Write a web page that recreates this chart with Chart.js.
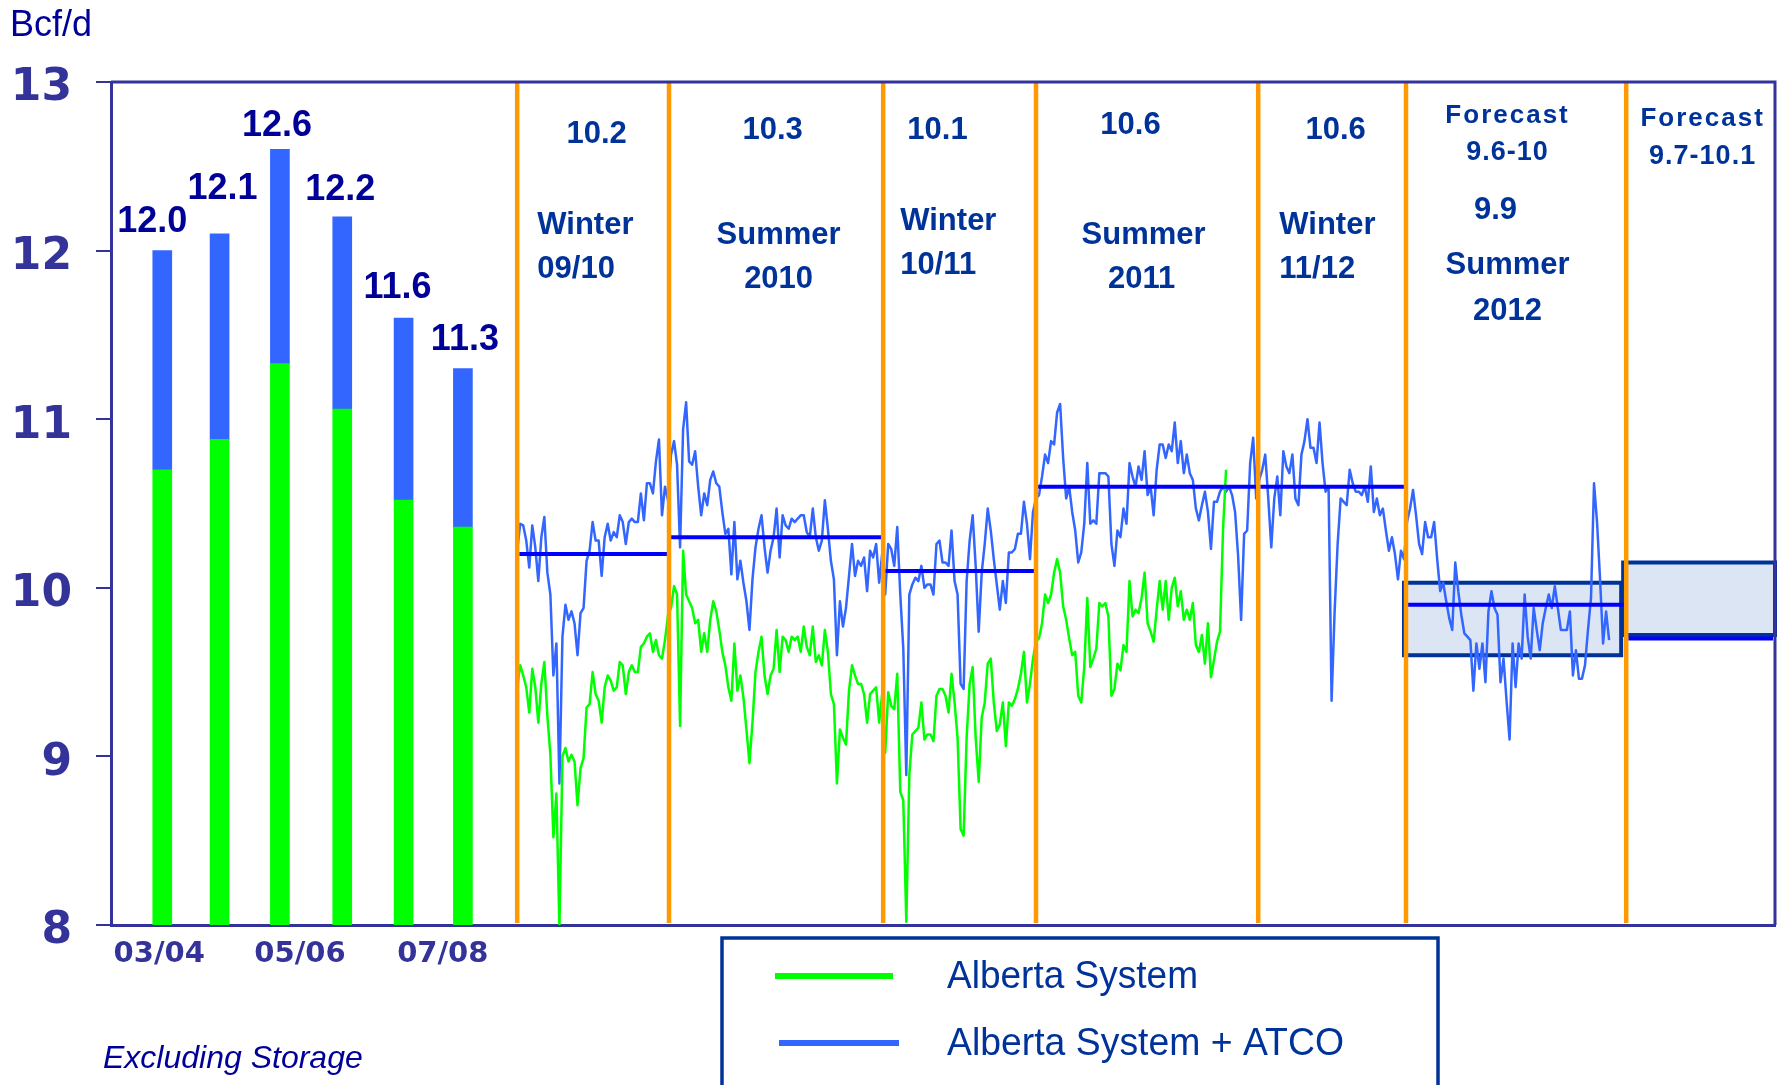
<!DOCTYPE html>
<html lang="en">
<head>
<meta charset="UTF-8">
<title>Alberta System - Bcf/d</title>
<script src="https://cdn.jsdelivr.net/npm/chart.js"></script>
<style>
  html, body { margin: 0; padding: 0; background: #fff; overflow: hidden; }
  #wrap { width: 1790px; height: 1085px; }
</style>
</head>
<body>
<div id="wrap"><canvas id="flowChart" width="1790" height="1085"></canvas></div>
<script>
// yearly bars (gas years), x = days before Nov 1 2009 on the shared axis
const barYears = ['03/04', '04/05', '05/06', '06/07', '07/08', '08/09'];
const barDay = [-353, -296, -236, -174, -113, -54];
const albertaBar = [10.70, 10.88, 11.33, 11.06, 10.52, 10.36];
const totalBar = [12.0, 12.1, 12.6, 12.2, 11.6, 11.3];

const xTickDays = [-356, -216, -74];
const xTickLabels = ['03/04', '05/06', '07/08'];

// seasons: start day of each, last entry = right edge
const seasonStart = [0, 151, 364, 516, 737, 884, 1103, 1251];
const seasonAvg = [10.2, 10.3, 10.1, 10.6, 10.6, 9.9, 9.7];
const bandLow = [9.6, 9.72];
const bandHigh = [10.03, 10.15];

// daily flows, one reading every 3 days from day 0
const dayStep = 3;
const atcoW0910 = [10.22, 10.38, 10.37, 10.28, 10.12, 10.37, 10.24, 10.04, 10.30, 10.42, 10.09, 9.96, 9.48, 9.67, 8.84, 9.71, 9.90, 9.81, 9.86, 9.79, 9.60, 9.85, 9.88, 10.16, 10.22, 10.39, 10.28, 10.28, 10.07, 10.30, 10.38, 10.28, 10.33, 10.30, 10.43, 10.39, 10.26, 10.39, 10.41, 10.39, 10.39, 10.56, 10.40, 10.62, 10.62, 10.56, 10.75, 10.88, 10.43, 10.60, 10.52];
const atcoS2010 = [10.79, 10.87, 10.73, 10.24, 10.94, 11.10, 10.75, 10.73, 10.81, 10.60, 10.43, 10.56, 10.49, 10.64, 10.69, 10.62, 10.60, 10.45, 10.32, 10.35, 10.08, 10.39, 10.05, 10.16, 10.03, 9.92, 9.75, 10.05, 10.24, 10.35, 10.43, 10.24, 10.09, 10.22, 10.30, 10.47, 10.18, 10.43, 10.37, 10.35, 10.41, 10.39, 10.41, 10.43, 10.43, 10.33, 10.30, 10.47, 10.30, 10.22, 10.28, 10.52, 10.35, 10.16, 10.05, 9.60, 9.92, 9.77, 9.88, 10.07, 10.26, 10.07, 10.16, 10.13, 10.18, 9.98, 10.22, 10.18, 10.26, 10.03, 10.20];
const atcoW1011 = [9.96, 10.26, 10.23, 10.13, 10.36, 9.96, 9.64, 8.89, 9.96, 10.02, 10.06, 10.04, 10.13, 10.00, 10.02, 10.02, 9.96, 10.26, 10.28, 10.15, 10.15, 10.13, 10.34, 10.04, 9.96, 9.43, 9.40, 10.04, 10.28, 10.43, 10.13, 9.74, 10.09, 10.26, 10.47, 10.34, 10.17, 10.02, 9.87, 10.04, 9.91, 10.21, 10.21, 10.23, 10.32, 10.32, 10.51, 10.38, 10.17, 10.45];
const atcoS2011 = [10.53, 10.55, 10.66, 10.79, 10.74, 10.87, 10.85, 11.04, 11.09, 10.77, 10.53, 10.60, 10.45, 10.34, 10.15, 10.21, 10.38, 10.74, 10.38, 10.40, 10.38, 10.68, 10.68, 10.68, 10.66, 10.26, 10.13, 10.34, 10.30, 10.47, 10.38, 10.74, 10.66, 10.60, 10.72, 10.64, 10.81, 10.55, 10.60, 10.43, 10.70, 10.85, 10.85, 10.77, 10.85, 10.81, 10.98, 10.74, 10.87, 10.68, 10.79, 10.68, 10.64, 10.47, 10.40, 10.49, 10.57, 10.45, 10.23, 10.51, 10.51, 10.57, 10.60, 10.57, 10.60, 10.55, 10.45, 10.19, 9.81, 10.32, 10.34, 10.74, 10.89, 10.53];
const atcoW1112 = [10.64, 10.70, 10.79, 10.53, 10.24, 10.53, 10.66, 10.43, 10.81, 10.72, 10.68, 10.79, 10.53, 10.49, 10.79, 10.87, 11.00, 10.83, 10.83, 10.74, 10.98, 10.74, 10.57, 10.60, 9.33, 9.86, 10.26, 10.53, 10.51, 10.49, 10.70, 10.62, 10.57, 10.57, 10.55, 10.60, 10.51, 10.72, 10.45, 10.53, 10.43, 10.47, 10.34, 10.22, 10.30, 10.20, 10.05, 10.22, 10.17];
const atcoS2012 = [10.39, 10.47, 10.58, 10.43, 10.26, 10.20, 10.39, 10.30, 10.30, 10.39, 10.17, 9.98, 10.03, 9.92, 9.82, 9.75, 10.15, 9.98, 9.84, 9.73, 9.71, 9.69, 9.39, 9.67, 9.52, 9.67, 9.44, 9.86, 9.98, 9.88, 9.84, 9.44, 9.58, 9.33, 9.10, 9.67, 9.41, 9.67, 9.58, 9.96, 9.71, 9.58, 9.88, 9.75, 9.63, 9.79, 9.88, 9.96, 9.88, 10.01, 9.88, 9.75, 9.75, 9.75, 9.86, 9.48, 9.63, 9.46, 9.46, 9.54, 9.75, 9.94, 10.62, 10.39, 10.05, 9.67, 9.86, 9.69];

const albertaW0910 = [9.41, 9.54, 9.48, 9.41, 9.26, 9.52, 9.41, 9.20, 9.43, 9.56, 9.24, 9.01, 8.52, 8.78, 7.98, 9.00, 9.05, 8.97, 9.01, 8.97, 8.71, 8.93, 8.99, 9.29, 9.31, 9.50, 9.37, 9.33, 9.20, 9.41, 9.48, 9.45, 9.39, 9.41, 9.56, 9.54, 9.37, 9.50, 9.54, 9.50, 9.50, 9.65, 9.67, 9.71, 9.73, 9.62, 9.69, 9.60, 9.58, 9.69, 9.84];
const albertaS2010 = [9.88, 10.01, 9.96, 9.18, 10.22, 9.96, 9.92, 9.88, 9.79, 9.81, 9.62, 9.73, 9.62, 9.81, 9.92, 9.86, 9.75, 9.62, 9.54, 9.41, 9.33, 9.67, 9.39, 9.48, 9.35, 9.16, 8.96, 9.20, 9.50, 9.62, 9.71, 9.48, 9.37, 9.48, 9.52, 9.75, 9.50, 9.71, 9.69, 9.62, 9.71, 9.69, 9.71, 9.62, 9.77, 9.65, 9.60, 9.77, 9.56, 9.60, 9.54, 9.75, 9.62, 9.37, 9.31, 8.84, 9.16, 9.11, 9.07, 9.39, 9.54, 9.48, 9.43, 9.43, 9.37, 9.20, 9.37, 9.39, 9.41, 9.20, 9.37];
const albertaW1011 = [9.02, 9.38, 9.30, 9.28, 9.49, 8.79, 8.74, 8.02, 8.89, 9.13, 9.15, 9.17, 9.32, 9.10, 9.13, 9.13, 9.09, 9.36, 9.40, 9.40, 9.36, 9.26, 9.49, 9.32, 9.11, 8.57, 8.53, 9.11, 9.43, 9.53, 9.11, 8.85, 9.23, 9.32, 9.55, 9.58, 9.32, 9.15, 9.19, 9.32, 9.06, 9.32, 9.30, 9.34, 9.40, 9.49, 9.62, 9.32, 9.43, 9.58];
const albertaS2011 = [9.68, 9.70, 9.79, 9.96, 9.91, 9.96, 10.09, 10.17, 10.09, 9.89, 9.81, 9.70, 9.60, 9.62, 9.36, 9.32, 9.53, 9.94, 9.53, 9.58, 9.64, 9.91, 9.89, 9.91, 9.83, 9.36, 9.40, 9.55, 9.51, 9.66, 9.62, 10.04, 9.83, 9.87, 9.85, 9.94, 10.09, 9.79, 9.74, 9.68, 9.87, 10.04, 9.87, 10.04, 9.81, 10.00, 10.06, 9.89, 9.98, 9.81, 9.87, 9.81, 9.91, 9.66, 9.62, 9.72, 9.55, 9.79, 9.47, 9.57, 9.68, 9.74, 10.34, 10.70];

const atcoDaily = [].concat(atcoW0910, atcoS2010, atcoW1011, atcoS2011, atcoW1112, atcoS2012);
const albertaDaily = [].concat(albertaW0910, albertaS2010, albertaW1011, albertaS2011);

const font = '"Liberation Sans", Arial, sans-serif';
const navy = '#000099';
const noteBlue = '#003399';

// text boxes in the plot, placed in axis units
const notes = [
  ['10.2', 79, 12.69, 'n'], ['Winter', 20, 12.15, 'l'], ['09/10', 20, 11.89, 'l'],
  ['10.3', 254, 12.71, 'n'], ['Summer', 260, 12.09, 'n'], ['2010', 260, 11.83, 'n'],
  ['10.1', 418, 12.71, 'n'], ['Winter', 381, 12.17, 'l'], ['10/11', 381, 11.91, 'l'],
  ['10.6', 610, 12.74, 'n'], ['Summer', 623, 12.09, 'n'], ['2011', 621, 11.83, 'n'],
  ['10.6', 814, 12.71, 'n'], ['Winter', 758, 12.15, 'l'], ['11/12', 758, 11.89, 'l'],
  ['Forecast', 985, 12.80, 'f'], ['9.6-10', 985, 12.58, 'r'],
  ['9.9', 973, 12.24, 'n'], ['Summer', 985, 11.91, 'n'], ['2012', 985, 11.64, 'n'],
  ['Forecast', 1179, 12.78, 'f'], ['9.7-10.1', 1179, 12.56, 'r']
];
const labelLift = [19, 35, 13, 17, 20, 19];
const labelShift = [-10, 3, -3, -2, -6, 2];

const asPoints = arr => arr.map((v, i) => ({ x: i * dayStep, y: v }));
const avgPoints = [];
seasonAvg.forEach((v, i) => {
    avgPoints.push({ x: seasonStart[i] + 2, y: v }, { x: seasonStart[i + 1] - 2, y: v }, { x: seasonStart[i + 1], y: null });
});

const decor = {
    id: 'decor',
    beforeDatasetsDraw(chart) {
        const { ctx, scales: { x, y } } = chart;
        ctx.save();
        bandLow.forEach((lo, i) => {
            const s = 5 + i;
            const left = x.getPixelForValue(i === 0 ? seasonStart[s] - 2 : seasonStart[s] - 3);
            const right = x.getPixelForValue(i === 0 ? seasonStart[s + 1] - 5 : seasonStart[s + 1]);
            const top = y.getPixelForValue(bandHigh[i]);
            const bottom = y.getPixelForValue(lo);
            ctx.fillStyle = '#dbe5f4';
            ctx.fillRect(left, top, right - left, bottom - top);
            ctx.lineWidth = 4;
            ctx.strokeStyle = noteBlue;
            ctx.strokeRect(left, top, right - left, bottom - top);
        });
        ctx.restore();
    },
    afterDatasetsDraw(chart) {
        const { ctx, chartArea: a, scales: { x, y } } = chart;
        ctx.save();

        // season dividers
        ctx.strokeStyle = '#FF9900';
        ctx.lineWidth = 4.5;
        for (let s = 0; s < seasonStart.length - 1; s++) {
            const px = x.getPixelForValue(seasonStart[s]);
            ctx.beginPath();
            ctx.moveTo(px, a.top);
            ctx.lineTo(px, a.bottom - 2);
            ctx.stroke();
        }

        // top and right frame
        ctx.strokeStyle = '#333399';
        ctx.lineWidth = 3;
        ctx.beginPath();
        ctx.moveTo(a.left, a.top);
        ctx.lineTo(a.right, a.top);
        ctx.lineTo(a.right, a.bottom);
        ctx.stroke();

        // bar totals
        const tops = chart.getDatasetMeta(4).data;
        ctx.fillStyle = navy;
        ctx.font = 'bold 36px ' + font;
        ctx.textAlign = 'center';
        ctx.textBaseline = 'alphabetic';
        tops.forEach((bar, i) => {
            ctx.fillText(totalBar[i].toFixed(1), bar.x + labelShift[i], bar.y - labelLift[i]);
        });

        // season notes
        ctx.fillStyle = noteBlue;
        ctx.textBaseline = 'middle';
        notes.forEach(([text, dx, dv, kind]) => {
            ctx.letterSpacing = '0px';
            if (kind === 'f') {
                ctx.font = 'bold 26px ' + font;
                ctx.letterSpacing = '2px';
            } else if (kind === 'r') {
                ctx.font = 'bold 27px ' + font;
                ctx.letterSpacing = '1px';
            } else {
                ctx.font = 'bold 31px ' + font;
            }
            ctx.textAlign = kind === 'l' ? 'left' : 'center';
            ctx.fillText(text, x.getPixelForValue(dx), y.getPixelForValue(dv));
        });
        ctx.letterSpacing = '0px';

        // unit and footnote
        ctx.fillStyle = navy;
        ctx.textAlign = 'left';
        ctx.textBaseline = 'alphabetic';
        ctx.font = '36px ' + font;
        ctx.fillText('Bcf/d', 10, 36);
        ctx.font = 'italic 32px ' + font;
        ctx.fillText('Excluding Storage', 103, 1068);

        // legend box
        const sets = chart.data.datasets;
        ctx.strokeStyle = noteBlue;
        ctx.lineWidth = 3.5;
        ctx.strokeRect(722, 938, 716, 200);
        [[sets[1], 976, 988, 251, 775, 893], [sets[2], 1043, 1055, 397, 779, 899]].forEach(([ds, ly, ty, tw, x0, x1]) => {
            ctx.strokeStyle = ds.borderColor;
            ctx.lineWidth = 6;
            ctx.beginPath();
            ctx.moveTo(x0, ly);
            ctx.lineTo(x1, ly);
            ctx.stroke();
            ctx.fillStyle = noteBlue;
            ctx.font = '39px ' + font;
            ctx.fillText(ds.label, 947, ty, tw);
        });
        ctx.restore();
    }
};

const ctx = document.getElementById('flowChart').getContext('2d');
const chart = new Chart(ctx, {
    type: 'line',
    data: {
        datasets: [
            { label: 'Season average', data: avgPoints, borderColor: '#0000FF', borderWidth: 4, pointRadius: 0, spanGaps: false, order: 0 },
            { label: 'Alberta System', data: asPoints(albertaDaily), borderColor: '#00FF00', borderWidth: 2.5, pointRadius: 0, borderJoinStyle: 'round', order: 1 },
            { label: 'Alberta System + ATCO', data: asPoints(atcoDaily), borderColor: '#3366FF', borderWidth: 2.5, pointRadius: 0, borderJoinStyle: 'round', order: 2 },
            { type: 'bar', label: 'Alberta System (gas year)', data: barDay.map((d, i) => ({ x: d, y: [8, albertaBar[i]] })), backgroundColor: '#00FF00', barThickness: 19, grouped: false, order: 3 },
            { type: 'bar', label: 'ATCO (gas year)', data: barDay.map((d, i) => ({ x: d, y: [albertaBar[i], totalBar[i]] })), backgroundColor: '#3366FF', barThickness: 19, grouped: false, order: 3 }
        ]
    },
    options: {
        responsive: false,
        animation: false,
        layout: { padding: { top: 82, right: 15, left: 0, bottom: 0 } },
        plugins: { legend: { display: false }, tooltip: { enabled: false } },
        scales: {
            x: {
                type: 'linear', min: -404, max: 1251, offset: false,
                grid: { display: false, drawTicks: false },
                border: { display: true, color: '#333399', width: 3 },
                afterBuildTicks: s => { s.ticks = xTickDays.map(v => ({ value: v })); },
                afterFit: s => { s.height = 160; },
                ticks: {
                    autoSkip: false, maxRotation: 0, padding: 12, color: '#333399',
                    font: { family: '"DejaVu Sans"', size: 29, weight: 'bold' },
                    callback: v => { const i = xTickDays.indexOf(v); return i >= 0 ? xTickLabels[i] : ''; }
                }
            },
            y: {
                min: 8, max: 13,
                afterFit: s => { s.width = 111; },
                ticks: { stepSize: 1, padding: 24, labelOffset: 7, color: '#333399', font: { family: '"DejaVu Sans"', size: 44, weight: 'bold' } },
                grid: { drawOnChartArea: false, drawTicks: true, tickLength: 15, color: '#333399', lineWidth: 2 },
                border: { display: true, color: '#333399', width: 3 }
            }
        }
    },
    plugins: [decor]
});
</script>
</body>
</html>
